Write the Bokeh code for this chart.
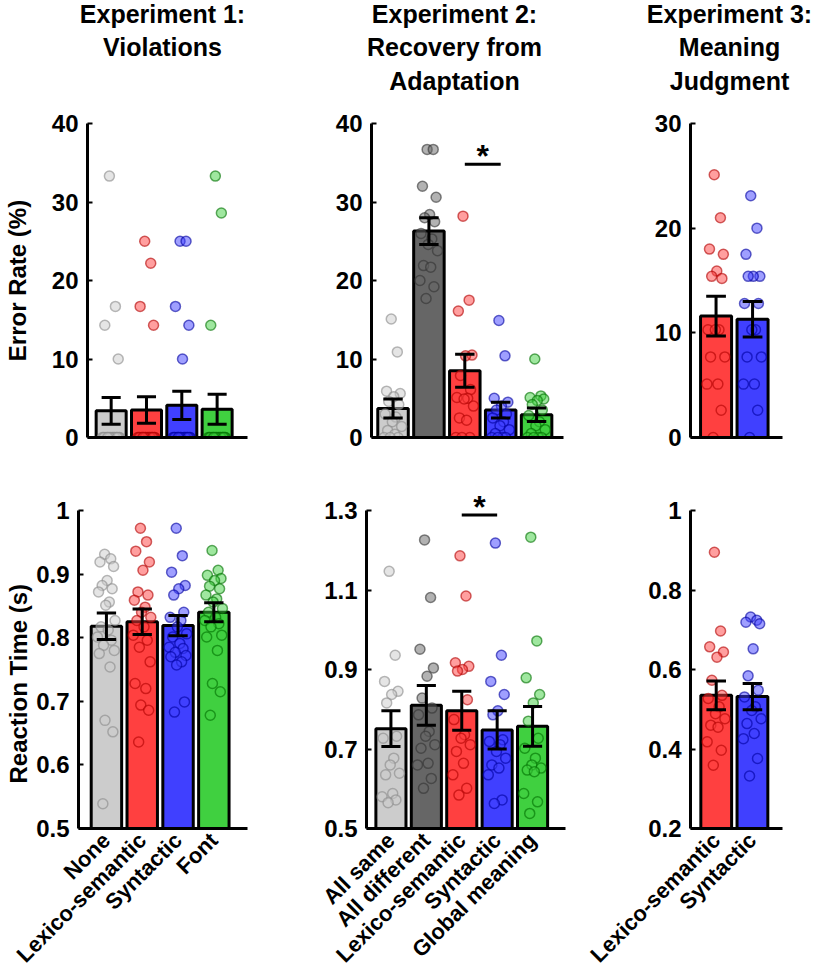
from bokeh.plotting import figure
from bokeh.layouts import row, column
from bokeh.models import FixedTicker, Label, Range1d, Title
from bokeh.embed import file_html
from bokeh.resources import INLINE
from bokeh.core.properties import value

FONT = "Liberation Sans"

# ---------------- data ----------------
# Experiment 1: Violations
e1_title = ["Experiment 1:", "Violations"]
e1_names = ["None", "Lexico-semantic", "Syntactic", "Font"]
e1_err_mean = [3.4, 3.5, 4.1, 3.6]
e1_err_sem = [1.7, 1.7, 1.8, 1.9]
e1_err_none = [33.3, 16.7, 14.3, 10.0, 0, 0, 0, 0, 0, 0, 0, 0, 0, 0, 0, 0, 0, 0, 0, 0, 0, 0]
e1_err_lex = [25.0, 22.2, 16.7, 14.3, 0, 0, 0, 0, 0, 0, 0, 0, 0, 0, 0, 0, 0, 0, 0, 0, 0, 0]
e1_err_syn = [25.0, 25.0, 16.7, 14.3, 10.0, 0, 0, 0, 0, 0, 0, 0, 0, 0, 0, 0, 0, 0, 0, 0, 0, 0]
e1_err_font = [33.3, 28.6, 14.3, 0, 0, 0, 0, 0, 0, 0, 0, 0, 0, 0, 0, 0, 0, 0, 0, 0, 0, 0]

e1_rt_mean = [0.818, 0.825, 0.819, 0.840]
e1_rt_sem = [0.021, 0.020, 0.016, 0.015]
e1_rt_none = [0.931, 0.924, 0.919, 0.912, 0.890, 0.882, 0.877, 0.872, 0.856, 0.851, 0.827,
              0.817, 0.812, 0.801, 0.796, 0.788, 0.780, 0.775, 0.754, 0.670, 0.652, 0.539]
e1_rt_lex = [0.972, 0.951, 0.936, 0.919, 0.906, 0.872, 0.867, 0.859, 0.848, 0.840, 0.832,
             0.827, 0.817, 0.804, 0.796, 0.785, 0.762, 0.728, 0.720, 0.694, 0.686, 0.636]
e1_rt_syn = [0.972, 0.929, 0.903, 0.882, 0.877, 0.867, 0.840, 0.832, 0.827, 0.817, 0.806,
             0.801, 0.791, 0.785, 0.783, 0.777, 0.772, 0.770, 0.762, 0.757, 0.699, 0.683]
e1_rt_font = [0.937, 0.906, 0.898, 0.893, 0.890, 0.881, 0.877, 0.867, 0.861, 0.856, 0.846,
              0.840, 0.832, 0.827, 0.822, 0.817, 0.804, 0.801, 0.780, 0.728, 0.715, 0.678]

# Experiment 2: Recovery from Adaptation
e2_title = ["Experiment 2:", "Recovery from", "Adaptation"]
e2_names = ["All same", "All different", "Lexico-semantic", "Syntactic", "Global meaning"]
e2_err_mean = [3.7, 26.3, 8.5, 3.5, 2.9]
e2_err_sem = [1.2, 1.7, 2.1, 1.0, 0.85]
e2_err_same = [15.1, 10.9, 5.9, 5.6, 5.2, 4.6, 4.2, 3.0, 2.6, 2.0, 1.4, 0.9, 0.4, 0, 0, 0]
e2_err_diff = [36.7, 36.7, 32.0, 30.6, 28.4, 28.0, 27.5, 26.0, 25.3, 24.6, 23.8, 21.9, 21.7, 20.0, 19.2, 17.7]
e2_err_lex = [28.2, 17.5, 16.1, 10.5, 10.4, 7.9, 6.1, 5.1, 5.0, 4.9, 4.0, 2.5, 2.2, 0, 0, 0]
e2_err_syn = [14.9, 10.4, 5.0, 4.5, 4.0, 3.5, 3.0, 2.5, 2.0, 1.5, 1.0, 0.5, 0, 0, 0, 0]
e2_err_glob = [10.0, 5.3, 5.1, 4.9, 4.7, 4.2, 3.5, 2.8, 2.0, 1.5, 1.0, 0.5, 0, 0, 0, 0]

e2_rt_mean = [0.751, 0.810, 0.796, 0.748, 0.757]
e2_rt_sem = [0.045, 0.050, 0.049, 0.048, 0.050]
e2_rt_same = [1.147, 0.936, 0.870, 0.845, 0.837, 0.816, 0.732, 0.727, 0.677, 0.660, 0.639,
              0.635, 0.588, 0.580, 0.572, 0.565]
e2_rt_diff = [1.226, 1.081, 0.951, 0.904, 0.883, 0.828, 0.803, 0.786, 0.744, 0.732, 0.711,
              0.702, 0.664, 0.660, 0.626, 0.601]
e2_rt_lex = [1.186, 1.085, 0.917, 0.908, 0.900, 0.896, 0.824, 0.774, 0.736, 0.727, 0.711,
             0.694, 0.664, 0.635, 0.601, 0.584]
e2_rt_syn = [1.218, 0.936, 0.870, 0.837, 0.796, 0.786, 0.723, 0.719, 0.711, 0.694, 0.677,
             0.660, 0.652, 0.635, 0.572, 0.563]
e2_rt_glob = [1.233, 0.972, 0.879, 0.837, 0.816, 0.770, 0.727, 0.702, 0.677, 0.660, 0.652,
              0.647, 0.643, 0.588, 0.567, 0.538]

# Experiment 3: Meaning Judgment
e3_title = ["Experiment 3:", "Meaning", "Judgment"]
e3_names = ["Lexico-semantic", "Syntactic"]
e3_err_mean = [11.6, 11.3]
e3_err_sem = [1.9, 1.7]
e3_err_lex = [25.1, 21.0, 18.0, 17.5, 15.9, 15.4, 15.2, 10.3, 10.3, 10.3, 7.7, 7.7, 5.1, 5.1, 2.6, 0.0]
e3_err_syn = [23.1, 20.0, 17.5, 15.4, 15.4, 15.4, 12.8, 12.8, 10.3, 10.3, 7.7, 7.7, 5.1, 5.1, 2.6, 0.0]

e3_rt_mean = [0.535, 0.532]
e3_rt_sem = [0.036, 0.033]
e3_rt_lex = [0.895, 0.697, 0.657, 0.644, 0.631, 0.573, 0.535, 0.527, 0.506, 0.489, 0.476,
             0.460, 0.455, 0.418, 0.397, 0.359]
e3_rt_syn = [0.732, 0.724, 0.719, 0.715, 0.652, 0.584, 0.548, 0.531, 0.506, 0.497, 0.476,
             0.464, 0.439, 0.426, 0.376, 0.332]

# significance markers (pair of condition indices, y level)
e2_err_sig = (3, 4, 34.8)
e2_rt_sig = (3, 4, 1.289)

# axis ticks
err_ticks_40 = [0, 10, 20, 30, 40]
err_ticks_30 = [0, 10, 20, 30]
rt1_ticks = [0.5, 0.6, 0.7, 0.8, 0.9, 1.0]
rt1_labels = ["0.5", "0.6", "0.7", "0.8", "0.9", "1"]
rt2_ticks = [0.5, 0.7, 0.9, 1.1, 1.3]
rt2_labels = ["0.5", "0.7", "0.9", "1.1", "1.3"]
rt3_ticks = [0.2, 0.4, 0.6, 0.8, 1.0]
rt3_labels = ["0.2", "0.4", "0.6", "0.8", "1"]

# ---------------- styles ----------------
C_LGRAY = "#cccccc"
C_DGRAY = "#666666"
C_RED = "#ff4040"
C_BLUE = "#4040ff"
C_GREEN = "#40d040"
EDGE = {C_LGRAY: "#8a8a8a", C_DGRAY: "#333333", C_RED: "#b00000",
        C_BLUE: "#0000a0", C_GREEN: "#007000"}
JITTER = [-0.05, 0.12, -0.18, 0.20, 0.02, -0.12, 0.16, -0.22, 0.08, -0.02, 0.24,
          -0.15, 0.05, -0.25, 0.14, -0.08, 0.22, -0.20, 0.10, -0.04, 0.18, -0.10]
BAR_W = 0.85
CAP = 0.27
COL_W = [300, 270, 255]
HEAD_H, TOP_H, BOT_H = 100, 360, 519
TITLE_Y = [13, 46, 80]


def header(width, lines, cx):
    p = figure(width=width, height=HEAD_H, x_range=Range1d(0, width),
               y_range=Range1d(HEAD_H, 0), output_backend="svg", toolbar_location=None,
               x_axis_location=None, y_axis_location=None, min_border=0, title=None)
    p.grid.visible = False
    p.outline_line_color = None
    p.text(x=[cx] * len(lines), y=TITLE_Y[:len(lines)], text=lines,
           text_font=value(FONT), text_font_style="bold", text_font_size="25px",
           text_align="center", text_baseline="alphabetic", text_color="black")
    return p


def panel(width, height, bl, br, bt, bb, xr, yr, names, colors, means, sems, pts,
          yticks, ylabels=None, ylabel=None, xlabels=False, lab_standoff=12,
          sig=None, ybounds=None, side_title=None):
    p = figure(width=width, height=height, x_range=Range1d(*xr), y_range=Range1d(*yr),
               output_backend="svg", toolbar_location=None, title=None,
               min_border_left=bl, min_border_right=br,
               min_border_top=bt, min_border_bottom=bb)
    p.grid.visible = False
    p.outline_line_color = None
    p.background_fill_color = "white"
    xs = list(range(1, len(names) + 1))

    p.vbar(x=xs, top=means, bottom=yr[0], width=BAR_W, fill_color=colors,
           line_color="black", line_width=3)

    for i, vals in enumerate(pts):
        px = [xs[i] + JITTER[k] for k in range(len(vals))]
        p.scatter(px, vals, size=10, marker="circle", fill_color=colors[i],
                  fill_alpha=0.5, line_color=EDGE[colors[i]], line_alpha=0.6,
                  line_width=1.5)

    lo = [m - s for m, s in zip(means, sems)]
    hi = [m + s for m, s in zip(means, sems)]
    p.segment(x0=xs, y0=lo, x1=xs, y1=hi, line_color="black", line_width=3)
    p.segment(x0=[x - CAP for x in xs], y0=hi, x1=[x + CAP for x in xs], y1=hi,
              line_color="black", line_width=3)
    p.segment(x0=[x - CAP for x in xs], y0=lo, x1=[x + CAP for x in xs], y1=lo,
              line_color="black", line_width=3)

    if sig is not None:
        a, b, yv = sig
        p.segment(x0=[a], y0=[yv], x1=[b], y1=[yv], line_color="black", line_width=3)
        p.add_layout(Label(x=(a + b) / 2, y=yv, text="*", text_font=FONT,
                           text_font_style="bold", text_font_size="32px",
                           text_align="center", text_baseline="alphabetic",
                           text_color="black", y_offset=8))

    # y axis
    ya = p.yaxis[0]
    ya.ticker = FixedTicker(ticks=yticks)
    if ylabels is not None:
        ya.major_label_overrides = {t: l for t, l in zip(yticks, ylabels)}
    if ybounds is not None:
        ya.bounds = ybounds
    ya.axis_line_width = 3
    ya.axis_line_color = "black"
    ya.major_tick_in = 5
    ya.major_tick_out = 0
    ya.major_tick_line_width = 2
    ya.major_tick_line_color = "black"
    ya.minor_tick_line_color = None
    ya.major_label_standoff = 9
    ya.major_label_text_font = FONT
    ya.major_label_text_font_style = "bold"
    ya.major_label_text_font_size = "24px"
    ya.major_label_text_color = "black"
    if ylabel:
        ya.axis_label = ylabel
        ya.axis_label_text_font = FONT
        ya.axis_label_text_font_style = "bold"
        ya.axis_label_text_font_size = "24px"
        ya.axis_label_text_color = "black"
        ya.axis_label_standoff = lab_standoff
    if side_title:
        text, offset = side_title
        p.add_layout(Title(text=text, align="left", offset=offset, standoff=4,
                           text_font=FONT, text_font_style="bold",
                           text_font_size="24px", text_color="black"), "left")

    # x axis
    xa = p.xaxis[0]
    xa.axis_line_width = 3
    xa.axis_line_color = "black"
    xa.major_tick_in = 0
    xa.major_tick_out = 0
    xa.minor_tick_line_color = None
    if xlabels:
        xa.ticker = FixedTicker(ticks=xs)
        xa.major_label_overrides = {x: n for x, n in zip(xs, names)}
        xa.major_label_orientation = 0.785398
        xa.major_label_standoff = 8
        xa.major_label_text_font = FONT
        xa.major_label_text_font_style = "bold"
        xa.major_label_text_font_size = "22px"
        xa.major_label_text_color = "black"
    else:
        xa.ticker = FixedTicker(ticks=[])
    return p


h1 = header(COL_W[0], e1_title, 162)
h2 = header(COL_W[1], e2_title, 154)
h3 = header(COL_W[2], e3_title, 159)

t1 = panel(COL_W[0], TOP_H, 84, 53, 23, 23, (0.33, 4.86), (0, 40), e1_names,
           [C_LGRAY, C_RED, C_BLUE, C_GREEN], e1_err_mean, e1_err_sem,
           [e1_err_none, e1_err_lex, e1_err_syn, e1_err_font], err_ticks_40,
           ylabel="Error Rate (%)", lab_standoff=18)
t2 = panel(COL_W[1], TOP_H, 71, 7, 23, 23, (0.40, 5.75), (0, 40), e2_names,
           [C_LGRAY, C_DGRAY, C_RED, C_BLUE, C_GREEN], e2_err_mean, e2_err_sem,
           [e2_err_same, e2_err_diff, e2_err_lex, e2_err_syn, e2_err_glob], err_ticks_40,
           sig=e2_err_sig)
t3 = panel(COL_W[2], TOP_H, 120, 43, 23, 23, (0.30, 2.82), (0, 30), e3_names,
           [C_RED, C_BLUE], e3_err_mean, e3_err_sem, [e3_err_lex, e3_err_syn],
           err_ticks_30)

# bottom frames start 24px above the top tick; the axis line is bounded to the tick span
b1 = panel(COL_W[0], BOT_H, 77, 53, 26, 151, (0.22, 4.94), (0.5, 1.0377), e1_names,
           [C_LGRAY, C_RED, C_BLUE, C_GREEN], e1_rt_mean, e1_rt_sem,
           [e1_rt_none, e1_rt_lex, e1_rt_syn, e1_rt_font], rt1_ticks, rt1_labels,
           xlabels=True, ybounds=(0.5, 1.0), side_title=("Reaction Time (s)", 45))
b2 = panel(COL_W[1], BOT_H, 66, 5, 26, 151, (0.31, 5.93), (0.5, 1.3604), e2_names,
           [C_LGRAY, C_DGRAY, C_RED, C_BLUE, C_GREEN], e2_rt_mean, e2_rt_sem,
           [e2_rt_same, e2_rt_diff, e2_rt_lex, e2_rt_syn, e2_rt_glob], rt2_ticks, rt2_labels,
           xlabels=True, sig=e2_rt_sig, ybounds=(0.5, 1.3))
b3 = panel(COL_W[2], BOT_H, 120, 43, 26, 151, (0.29, 2.83), (0.2, 1.0604), e3_names,
           [C_RED, C_BLUE], e3_rt_mean, e3_rt_sem, [e3_rt_lex, e3_rt_syn],
           rt3_ticks, rt3_labels, xlabels=True, ybounds=(0.2, 1.0))

layout = column(row(h1, h2, h3), row(t1, t2, t3), row(b1, b2, b3))

open("out.html", "w").write(file_html(layout, INLINE))
